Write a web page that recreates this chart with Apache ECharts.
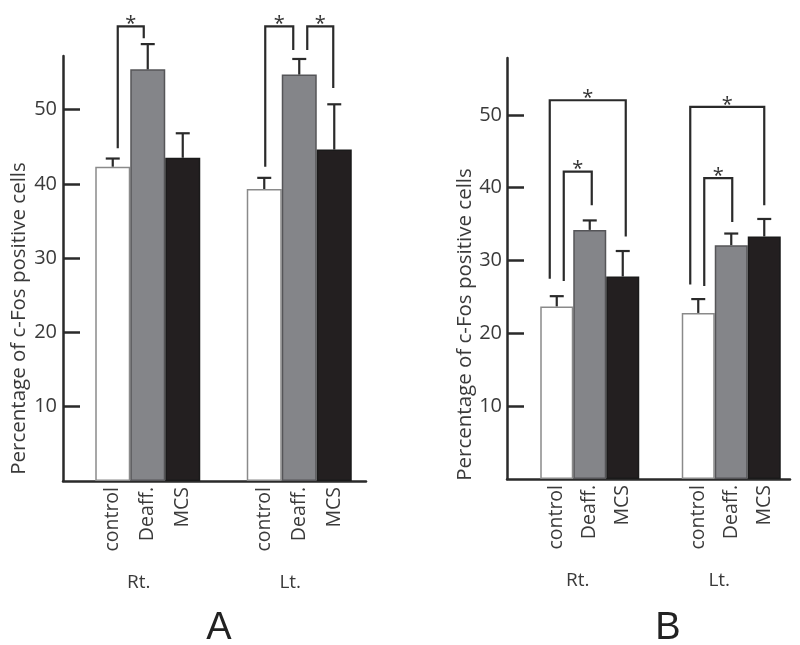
<!DOCTYPE html>
<html>
<head>
<meta charset="utf-8">
<script src="https://cdn.jsdelivr.net/npm/echarts@6/dist/echarts.min.js"></script>
<style>html,body{margin:0;padding:0;background:#fff}#c{width:800px;height:645px}</style>
</head>
<body>
<div id="c"></div>
<script>
// ---------- data ----------
const CATEGORIES = ['Rt.', 'Lt.'];
const TREATMENTS = ['control', 'Deaff.', 'MCS'];
const Y_TICKS = [10, 20, 30, 40, 50];
const Y_NAME = 'Percentage of c-Fos positive cells';

// Panel A (means and upper error, per side Rt., Lt.)
const A_CONTROL = [42.3, 39.3];
const A_CONTROL_ERR = [1.1, 1.5];
const A_DEAFF = [55.4, 54.7];
const A_DEAFF_ERR = [3.4, 2.1];
const A_MCS = [43.5, 44.6];
const A_MCS_ERR = [3.3, 6.1];
// significance brackets: [side, fromBar, toBar, top, leftEnd, rightEnd]
const A_BRACKETS = [[0, 0, 1, 61.2, 44.8, 59.6], [1, 0, 1, 61.2, 42.3, 58.0], [1, 1, 2, 61.2, 58.0, 52.9]];

// Panel B
const B_CONTROL = [23.7, 22.8];
const B_CONTROL_ERR = [1.4, 1.9];
const B_DEAFF = [34.2, 32.1];
const B_DEAFF_ERR = [1.3, 1.6];
const B_MCS = [27.8, 33.3];
const B_MCS_ERR = [3.5, 2.4];
const B_BRACKETS = [[0, 0, 2, 52.0, 27.5, 33.3], [0, 0, 1, 42.2, 27.2, 37.6], [1, 0, 2, 51.1, 26.7, 37.6], [1, 0, 1, 41.3, 26.5, 35.3]];

// ---------- styles / layout ----------
const FONT = 'Open Sans';
const INK = '#2a2a2a';
const TEXT = '#3a3a3a';
const BAR_STYLES = [
  { color: '#ffffff', borderColor: '#8a8a8a', borderWidth: 1.5 },
  { color: '#848589', borderColor: '#555558', borderWidth: 1.5 },
  { color: '#231f20', borderColor: '#1a1a1a', borderWidth: 1.5 }
];
const PANELS = [
  { grid: { left: 63, right: 434, top: 56, bottom: 164 }, max: 57.2, bw: 35, lead: 18, nameGap: 33, namePad: 100,
    means: [A_CONTROL, A_DEAFF, A_MCS], errs: [A_CONTROL_ERR, A_DEAFF_ERR, A_MCS_ERR], brackets: A_BRACKETS,
    legNudge: [[5, -4], [1, -6], [8, -1]], labelMargin: 6 },
  { grid: { left: 507, right: 10, top: 58, bottom: 166 }, max: 57.8, bw: 33, lead: 24, nameGap: 28, namePad: 112,
    means: [B_CONTROL, B_DEAFF, B_MCS], errs: [B_CONTROL_ERR, B_DEAFF_ERR, B_MCS_ERR], brackets: B_BRACKETS,
    legNudge: [[-7, 3], [7, 2], [-8, 0], [6, 1]], labelMargin: 5 }
];

function barCenterX(api, side, k, p) {
  const c = api.coord([side, 0])[0];
  const total = p.lead + 3 * p.bw;
  return c - total / 2 + p.lead + k * p.bw + p.bw / 2;
}

const grids = [], xAxes = [], yAxes = [], series = [];
PANELS.forEach((p, i) => {
  grids.push(p.grid);
  xAxes.push({
    gridIndex: i, type: 'category', data: CATEGORIES,
    axisLine: { lineStyle: { color: INK, width: 2.5 } },
    axisTick: { show: false },
    axisLabel: { margin: 92, fontSize: 19, color: TEXT, fontFamily: FONT }
  });
  yAxes.push({
    gridIndex: i, type: 'value', min: 0, max: p.max,
    axisLine: { show: true, lineStyle: { color: INK, width: 2.5 } },
    axisTick: { show: true, inside: true, length: 17, customValues: Y_TICKS, lineStyle: { color: INK, width: 2.5 } },
    axisLabel: { customValues: Y_TICKS, margin: p.labelMargin, fontSize: 20, color: TEXT, fontFamily: FONT },
    splitLine: { show: false },
    name: Y_NAME, nameLocation: 'middle', nameRotate: 90, nameGap: p.nameGap,
    nameTextStyle: { fontSize: 20.5, color: TEXT, fontFamily: FONT, padding: [0, p.namePad, 0, 0] }
  });
  // spacer so bar groups sit where the figure puts them
  series.push({ type: 'bar', xAxisIndex: i, yAxisIndex: i, data: ['-', '-'], barWidth: p.lead, barGap: '0%', silent: true });
  TREATMENTS.forEach((t, k) => {
    series.push({
      type: 'bar', name: t, xAxisIndex: i, yAxisIndex: i, data: p.means[k],
      barWidth: p.bw, barGap: '0%', itemStyle: BAR_STYLES[k],
      label: { show: true, position: 'bottom', distance: 6, rotate: 90, align: 'right', verticalAlign: 'middle',
        formatter: '{a}', fontSize: 19.5, color: TEXT, fontFamily: FONT },
      emphasis: { disabled: true }
    });
  });
  // error bars
  const errData = [];
  TREATMENTS.forEach((t, k) => {
    CATEGORIES.forEach((c, s) => errData.push([s, k, p.means[k][s], p.means[k][s] + p.errs[k][s]]));
  });
  series.push({
    type: 'custom', xAxisIndex: i, yAxisIndex: i, data: errData, z: 5, silent: true,
    encode: { x: 0, y: [2, 3] },
    renderItem: (params, api) => {
      const s = api.value(0), k = api.value(1);
      const x = barCenterX(api, s, k, p);
      const y0 = api.coord([s, api.value(2)])[1];
      const y1 = api.coord([s, api.value(3)])[1];
      const st = { stroke: INK, lineWidth: 2.2 };
      return { type: 'group', children: [
        { type: 'line', shape: { x1: x, y1: y0, x2: x, y2: y1 }, style: st },
        { type: 'line', shape: { x1: x - 7, y1: y1, x2: x + 7, y2: y1 }, style: st }
      ] };
    }
  });
  // significance brackets
  series.push({
    type: 'custom', xAxisIndex: i, yAxisIndex: i, data: p.brackets, z: 5, silent: true, clip: false,
    encode: { x: 0, y: [3, 4, 5] },
    renderItem: (params, api) => {
      const s = api.value(0), a = api.value(1), b = api.value(2);
      const nudge = p.legNudge[params.dataIndex];
      const xl = barCenterX(api, s, a, p) + nudge[0];
      const xr = barCenterX(api, s, b, p) + nudge[1];
      const yt = api.coord([s, api.value(3)])[1];
      const yl = api.coord([s, api.value(4)])[1];
      const yr = api.coord([s, api.value(5)])[1];
      return { type: 'group', children: [
        { type: 'polyline', shape: { points: [[xl, yl], [xl, yt], [xr, yt], [xr, yr]] },
          style: { stroke: INK, lineWidth: 2.2, fill: 'none' } },
        { type: 'text', x: (xl + xr) / 2, y: yt - 2,
          style: { text: '*', fontSize: 20, fontFamily: FONT, fill: '#333', align: 'center', verticalAlign: 'middle' } }
      ] };
    }
  });
});

const chart = echarts.init(document.getElementById('c'), null, { renderer: 'canvas' });
chart.setOption({
  backgroundColor: '#ffffff',
  animation: false,
  title: [
    { text: 'A', left: 214, top: 605, textAlign: 'center', textStyle: { fontSize: 38, fontWeight: 'normal', color: '#222', fontFamily: 'Liberation Sans' } },
    { text: 'B', left: 663, top: 605, textAlign: 'center', textStyle: { fontSize: 38, fontWeight: 'normal', color: '#222', fontFamily: 'Liberation Sans' } }
  ],
  grid: grids,
  xAxis: xAxes,
  yAxis: yAxes,
  series: series
});
</script>
</body>
</html>
